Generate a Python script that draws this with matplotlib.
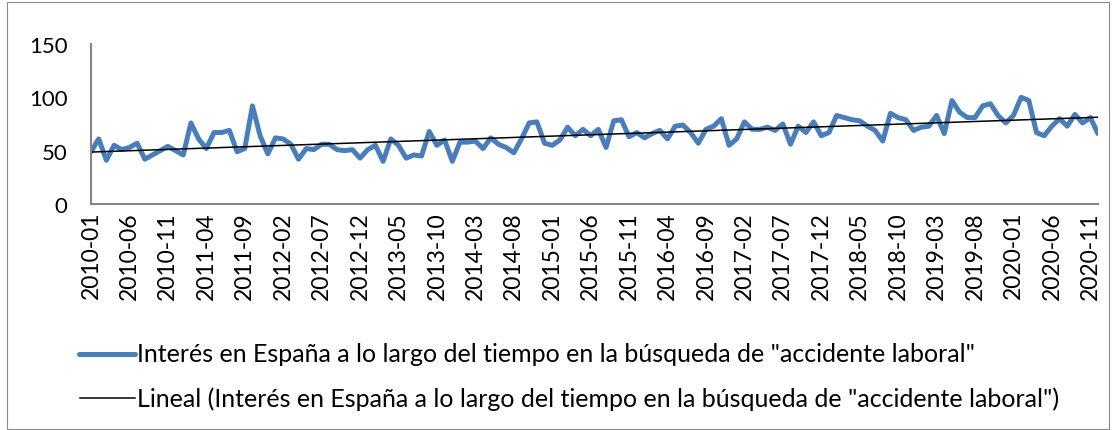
import matplotlib
matplotlib.use("Agg")
import matplotlib.pyplot as plt
from matplotlib.lines import Line2D
from matplotlib.patches import Rectangle
import numpy as np
import pandas as pd

plt.rcParams['font.family'] = ['Lato', 'DejaVu Sans']

months = pd.period_range("2010-01", "2020-12", freq="M").strftime("%Y-%m").tolist()
interes = [
    49, 61, 41, 55, 51, 53, 57, 42, 46, 50, 54, 50,
    46, 76, 61, 52, 67, 67, 69, 49, 52, 92, 64, 47,
    62, 61, 56, 42, 52, 51, 56, 56, 51, 50, 51, 43,
    51, 55, 40, 61, 55, 43, 46, 45, 68, 55, 60, 40,
    58, 58, 59, 52, 62, 56, 53, 48, 61, 76, 77, 57,
    55, 60, 72, 64, 70, 64, 70, 53, 78, 79, 63, 67,
    62, 66, 69, 61, 73, 74, 67, 57, 70, 73, 80, 55,
    61, 77, 70, 70, 72, 69, 75, 56, 73, 67, 77, 64,
    67, 83, 81, 79, 78, 73, 69, 59, 85, 81, 79, 69,
    72, 73, 83, 66, 97, 86, 81, 81, 92, 94, 83, 76,
    83, 100, 97, 67, 64, 73, 80, 73, 84, 76, 81, 66,
]
tick_labels = months[::5]
legend_labels = [
    'Interés en España a lo largo del tiempo en la búsqueda de "accidente laboral"',
    'Lineal (Interés en España a lo largo del tiempo en la búsqueda de "accidente laboral")',
]

W, H = 1113, 431
fig = plt.figure(figsize=(W / 100, H / 100), dpi=100)

def fx(px):
    return px / W

def fy(py):
    return 1 - py / H

# outer chart frame
fig.add_artist(Rectangle((fx(7), fy(430)), fx(1109) - fx(7), fy(3) - fy(430),
                         transform=fig.transFigure, fill=False,
                         edgecolor='#898989', linewidth=0.8))

ax = fig.add_axes([fx(91), fy(205), fx(1098) - fx(91), fy(45) - fy(205)])
x = np.arange(len(interes))
y = np.array(interes, dtype=float)
coef = np.polyfit(x, y, 1)
trend = np.polyval(coef, x)

blue = '#4A7EBB'
ax.plot(x, y, color=blue, linewidth=3.6, solid_capstyle='round', solid_joinstyle='round')
ax.plot(x, trend, color='black', linewidth=1.1)

ax.set_xlim(0, len(interes) - 1)
ax.set_ylim(0, 150)
ax.set_yticks([0, 50, 100, 150])
ax.set_xticks(x[::5])
ax.set_xticklabels(tick_labels, rotation=90, fontsize=16.5)
ax.tick_params(axis='y', length=0, pad=17, labelsize=16)
ax.tick_params(axis='x', length=0, pad=5)
for s in ['top', 'right']:
    ax.spines[s].set_visible(False)
for s in ['left', 'bottom']:
    ax.spines[s].set_color('#868686')
    ax.spines[s].set_linewidth(1.5)

# legend
fig.add_artist(Line2D([fx(79), fx(135)], [fy(355), fy(355)], transform=fig.transFigure,
                      color=blue, linewidth=3.6, solid_capstyle='round'))
fig.text(fx(137), fy(355), legend_labels[0], fontsize=18, va='center', ha='left')
fig.add_artist(Line2D([fx(80), fx(135)], [fy(399), fy(399)], transform=fig.transFigure,
                      color='black', linewidth=1.1))
fig.text(fx(137), fy(399), legend_labels[1], fontsize=18, va='center', ha='left')

fig.savefig('out.png', dpi=100)
